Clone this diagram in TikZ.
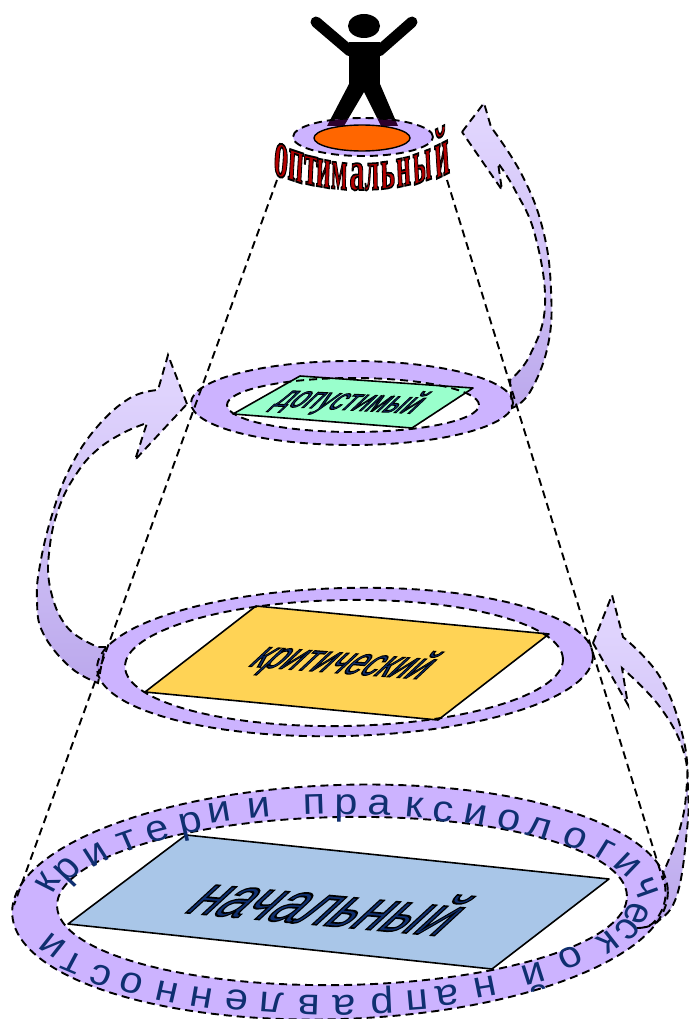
\documentclass[tikz,border=0pt]{standalone}
\usepackage{fontspec}
\setmainfont{Liberation Sans}
\newfontfamily\serfont{Liberation Serif}
\usetikzlibrary{calc}
\definecolor{ringc}{HTML}{CCB3FF}
\definecolor{overc}{HTML}{AE95E8}
\definecolor{headc}{HTML}{E3D8FF}
\definecolor{tailc}{HTML}{BBA8EC}
\definecolor{navy}{HTML}{0F2F70}
\newcommand{\stroketext}[2]{\special{pdf:code 2 Tr #1 w 0 0 0 RG}#2\special{pdf:code 0 Tr}}
\tikzset{
  dashline/.style={draw=black,line width=1.9pt,dash pattern=on 8pt off 5pt},
  plate/.style={draw=black,line width=1.6pt,line join=round},
  ringletter/.style={font=\fontsize{37}{37}\selectfont,text=navy,inner sep=0pt,text height=19pt,text depth=0pt,xscale=1.12},
  slanted/.style={text=navy,inner sep=0pt,xslant=1.0}
}
\def\arrowA{(462,132) -- (484,103) -- (491,127) -- plot[smooth,tension=.7] coordinates {(491,127) (522,175) (543,230) (551,290) (548,345) (530,392) (512,408)} -- plot[smooth,tension=.7] coordinates {(510,380) (530,355) (545,305) (535,235) (515,190) (498,163)} -- (502,190) -- cycle}
\def\arrowB{(187,404) -- (168,355) -- (158,390) -- plot[smooth,tension=.7] coordinates {(158,390) (130,398) (97,427) (70,468) (52,515) (40,565) (37,600) (43,633) (70,667) (98,683)} -- (105,647) -- plot[smooth,tension=.7] coordinates {(98,647) (67,627) (50,587) (50,545) (60,505) (77,473) (97,450) (123,433) (147,423)} -- (135,460) -- cycle}
\def\arrowC{(593,643) -- (612,595) -- (623,637) -- plot[smooth,tension=.7] coordinates {(623,637) (660,677) (683,737) (688,790) (687,830) (677,895) (657,922) (637,928)} -- plot[smooth,tension=.7] coordinates {(637,928) (653,923) (665,900) (663,873)} -- plot[smooth,tension=.7] coordinates {(663,873) (678,835) (686,795) (684,753) (660,707) (622,668)} -- (628,705) -- cycle}
\def\legs{(349,84) -- (380,84) -- (398,126) -- (381,126) -- (364,92) -- (344,126) -- (327,126) -- cycle}
\begin{document}
\begin{tikzpicture}[x=1pt,y=-1pt]
\useasboundingbox (0,0) rectangle (688,1019);
\fill[white] (0,0) rectangle (688,1019);
% person
\fill[black] (364,26) ellipse [x radius=16pt,y radius=12pt];
\fill[black] (349,42) rectangle (380,90);
\fill[black] \legs;
\draw[black,line width=11pt,line cap=round] (350,51) -- (316,22);
\draw[black,line width=11pt,line cap=round] (379,51) -- (412,22);
% rings
\fill[ringc] (363,137) ellipse [x radius=70pt,y radius=19pt];
\begin{scope}
\clip (363,137) ellipse [x radius=70pt,y radius=19pt];
\fill[black!65!violet] \legs;
\end{scope}
\fill[ringc,even odd rule] (352,403) ellipse [x radius=161pt,y radius=42pt,rotate=0] (353,405) ellipse [x radius=126pt,y radius=27pt];
\fill[ringc,even odd rule] (345,662) ellipse [x radius=248pt,y radius=74pt,rotate=1.5] (344,663) ellipse [x radius=219pt,y radius=63pt,rotate=1];
\fill[ringc,even odd rule] (340,902) ellipse [x radius=328pt,y radius=117pt,rotate=2] (342,901) ellipse [x radius=285pt,y radius=84pt,rotate=1];
% curved arrows
\foreach \arr in {\arrowA,\arrowB,\arrowC}{
  \shade[top color=headc,bottom color=tailc,middle color=headc!55!tailc] \arr;
}
\begin{scope}
\clip \arrowC;
\fill[overc] (340,902) ellipse [x radius=328pt,y radius=117pt,rotate=2];
\end{scope}
\begin{scope}
\clip \arrowB;
\fill[overc] (345,662) ellipse [x radius=248pt,y radius=74pt,rotate=1.5];
\end{scope}
% plates
\draw[plate,fill={rgb,255:red,169;green,198;blue,232}] (186,835) -- (609,879) -- (492,969) -- (68,924) -- cycle;
\draw[plate,fill={rgb,255:red,255;green,211;blue,85}] (256,606) -- (549,634) -- (438,720) -- (145,692) -- cycle;
\draw[plate,fill={rgb,255:red,153;green,255;blue,204}] (300,376) -- (473,388) -- (412,428) -- (233,414) -- cycle;
\draw[black,line width=1.4pt,fill={rgb,255:red,255;green,102;blue,0}] (362,138) ellipse [x radius=48pt,y radius=13pt];
% dashed outlines
\draw[dashline] (363,137) ellipse [x radius=70pt,y radius=19pt];
\draw[dashline] (352,403) ellipse [x radius=161pt,y radius=42pt];
\draw[dashline] (353,405) ellipse [x radius=126pt,y radius=27pt];
\draw[dashline] (345,662) ellipse [x radius=248pt,y radius=74pt,rotate=1.5];
\draw[dashline] (344,663) ellipse [x radius=219pt,y radius=63pt,rotate=1];
\draw[dashline] (340,902) ellipse [x radius=328pt,y radius=117pt,rotate=2];
\draw[dashline] (342,901) ellipse [x radius=285pt,y radius=84pt,rotate=1];
\draw[dashline] \arrowA;
\draw[dashline] \arrowB;
\draw[dashline] \arrowC;
% cone
\coordinate (coneTL) at (277,180);
\coordinate (coneBL) at (14,905);
\coordinate (coneTR) at (447,180);
\coordinate (coneBR) at (663,880);
\draw[dashline] (coneTL) -- (coneBL);
\draw[dashline] (coneTR) -- (coneBR);
% plate labels
\node[slanted,rotate=-4.8,xscale=1.1,yscale=1.05] (lab1) at (331,905) {\fontsize{50}{50}\selectfont\color{navy}\stroketext{1.5}{начальный}};
\node[slanted,rotate=-4,xscale=.9,yscale=1.0] (lab2) at (343,663) {\fontsize{36}{36}\selectfont\color{navy}\stroketext{1.2}{критический}};
\node[slanted,rotate=-3,xscale=.9,yscale=1.0] (lab3) at (350,402) {\fontsize{29}{29}\selectfont\color{navy}\stroketext{1.0}{допустимый}};
% ring text
\foreach \ch/\x/\y [count=\i] in {к/48/883,р/68/870,и/96/855,т/127/842,е/158/832,р/191/823,и/219/813,и/259/808,п/314/805,р/346/805,а/379/805,к/414/808,с/443/812,и/476/815,о/509/820,л/539/828,о/575/838,г/605/850,и/627/865,ч/645/888,е/636/913,с/627/929,к/608/942,о/570/957,й/533/973,н/485/987,а/447/995,п/417/1000,р/382/1003,а/344/1005,в/309/1005,л/272/1002,е/237/1000,н/202/997,н/167/992,о/132/983,с/101/975,т/72/962,и/53/945}{
  \pgfmathsetmacro\tt{atan2((\y-901)/100,(\x-341)/305)}
  \pgfmathsetmacro\rr{atan2(-100*cos(\tt),-305*sin(\tt))}
  \node[ringletter,rotate=\rr] (rl\i) at (\x,\y) {\ch};
}
% arched word
\foreach \ch/\x/\sx [count=\i] in {о/280/.95,п/295/.9,т/310/.95,и/323/.85,м/339/.8,а/357/1.0,л/372/.85,ь/388/.9,н/404/.85,ы/423/.8,й/443/.85}{
  \pgfmathsetmacro\b{190-15*((\x-360)/85)^2}
  \pgfmathsetmacro\tp{163-22*((\x-360)/85)^2}
  \pgfmathsetmacro\sy{(\b-\tp)/(30*0.473)}
  \pgfmathsetmacro\rt{(\x-360)*0.12}
  \node[anchor=base,inner sep=0pt,xscale=\sx,yscale=\sy,rotate=\rt] (ow\i) at (\x,\b) {\fontsize{30}{30}\serfont\bfseries\color{red!70!black}\stroketext{0.9}{\ch}};
}
\end{tikzpicture}
\end{document}
